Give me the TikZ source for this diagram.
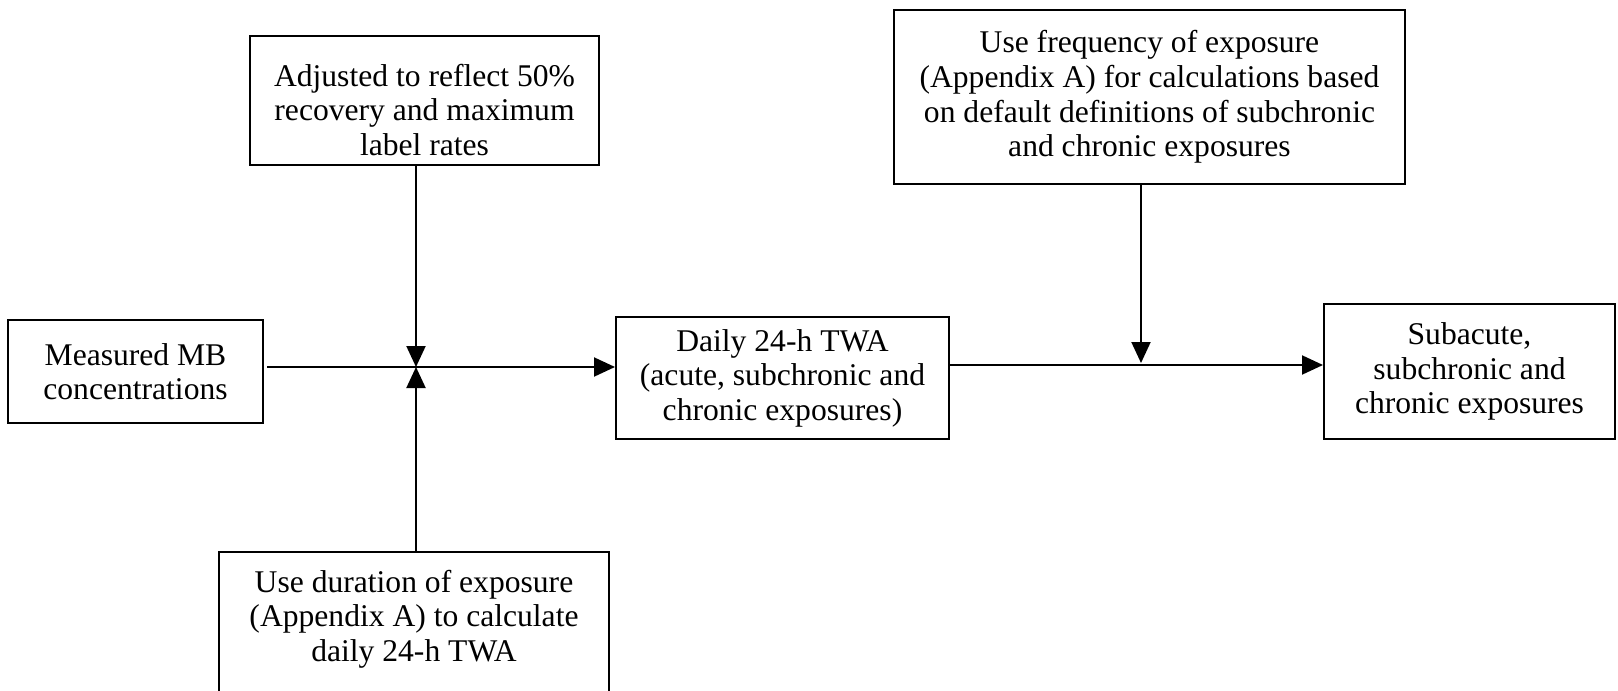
\documentclass[tikz,border=0pt]{standalone}
\usepackage{fontspec}
\setmainfont{Liberation Serif}
\usetikzlibrary{arrows.meta}
\begin{document}
\begin{tikzpicture}[x=0.5pt,y=-0.5pt,
  box/.style={draw, line width=1pt, align=center, inner sep=0pt,
    font=\fontsize{15.8}{17.3}\selectfont},
  txt/.style={align=center, inner sep=0pt, font=\fontsize{15.8}{17.3}\selectfont},
  arr/.style={line width=1pt, -{Triangle[length=10.5pt,width=9.5pt]}},
  ln/.style={line width=1pt}]
\useasboundingbox (0,0) rectangle (1618,691);
\node[box, minimum width=127.5pt, minimum height=51.5pt] (mb) at (135.5,371.5) {Measured MB\\concentrations};
\node[box, minimum width=174.5pt, minimum height=64.5pt] (adj) at (424.5,100.5) {};
\node[txt] (adjt) at (424.5,110) {Adjusted to reflect 50\%\\recovery and maximum\\label rates};
\node[box, minimum width=195pt, minimum height=82pt] (dur) at (414,634) {};
\node[txt] (durt) at (414,619) {Use duration of exposure\\(Appendix A) to calculate\\daily 24-h TWA};
\node[box, minimum width=166.5pt, minimum height=61pt] (daily) at (782.5,378) {Daily 24-h TWA\\(acute, subchronic and\\chronic exposures)};
\node[box, minimum width=255.5pt, minimum height=87pt] (freq) at (1149.5,97) {Use frequency of exposure\\(Appendix A) for calculations based\\on default definitions of subchronic\\and chronic exposures};
\node[box, minimum width=145.5pt, minimum height=67.5pt] (sub) at (1469.5,371.5) {Subacute,\\subchronic and\\chronic exposures};
\coordinate (j) at (416,367);
\coordinate (j2) at (1141,365);
\draw[ln] ([xshift=1.5pt]mb.east |- j) -- (j);
\draw[arr] (j) -- (daily.west |- j);
\draw[arr] (adj.south -| j) -- (j);
\draw[arr] (dur.north -| j) -- (j);
\draw[ln] (daily.east |- j2) -- (j2);
\draw[arr] (j2) -- (sub.west |- j2);
\draw[arr] (freq.south -| j2) -- ([yshift=1pt]j2);
\end{tikzpicture}
\end{document}
